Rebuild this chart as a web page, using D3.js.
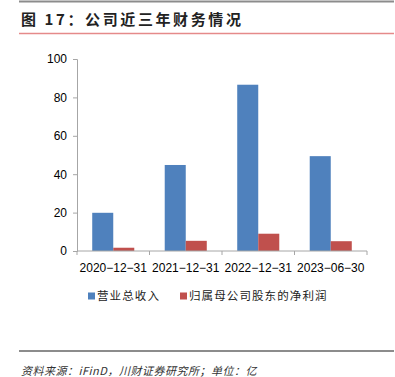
<!DOCTYPE html>
<html>
<head>
<meta charset="utf-8">
<script src="https://cdn.jsdelivr.net/npm/d3@7"></script>
<style>
  body { margin: 0; background: #fff; }
  svg { display: block; font-family: "Liberation Sans", Arial, sans-serif; }
</style>
</head>
<body>
<svg id="chart" width="395" height="377"></svg>
<script>
// data
const categories = ["2020-12-31", "2021-12-31", "2022-12-31", "2023-06-30"];
const revenue = [19.9, 44.8, 86.6, 49.4];
const netProfit = [1.7, 5.3, 9.0, 5.1];
const seriesNames = ["营业总收入", "归属母公司股东的净利润"];
const seriesColors = ["#4f81bd", "#c0504d"];
const yTicks = [0, 20, 40, 60, 80, 100];

const svg = d3.select("#chart");
const cjk = "'Noto Sans CJK SC', sans-serif";

// header / footer rules
svg.append("line").attr("x1", 19).attr("x2", 394).attr("y1", 1.5).attr("y2", 1.5)
  .attr("stroke", "#8c8c8c").attr("stroke-width", 2);
svg.append("text").attr("x", 21).attr("y", 25)
  .attr("font-family", cjk).attr("font-weight", "bold").attr("font-size", 15)
  .attr("letter-spacing", 2.6)
  .attr("fill", "#222").text("图 17：公司近三年财务情况");
svg.append("line").attr("x1", 19).attr("x2", 394).attr("y1", 33.5).attr("y2", 33.5)
  .attr("stroke", "#e58a8a").attr("stroke-width", 1.5);
svg.append("line").attr("x1", 19).attr("x2", 394).attr("y1", 351).attr("y2", 351)
  .attr("stroke", "#8c8c8c").attr("stroke-width", 2);
svg.append("text").attr("x", 21).attr("y", 375)
  .attr("font-family", cjk).attr("font-style", "italic").attr("font-size", 11)
  .attr("letter-spacing", 0.5)
  .attr("fill", "#333")
  .text("资料来源：iFinD，川财证券研究所；单位：亿");

const margin = { left: 77, right: 28, top: 59, bottom: 126 };
const width = 395, height = 377;

const x = d3.scaleBand().domain(categories)
  .range([margin.left, width - margin.right]);
const y = d3.scaleLinear().domain([0, 100])
  .range([height - margin.bottom, margin.top]);

const barW = x.bandwidth() * 0.29;
const pad = (x.bandwidth() - 2 * barW) / 2;

[revenue, netProfit].forEach((vals, s) => {
  svg.append("g").selectAll("rect")
    .data(vals)
    .enter().append("rect")
    .attr("x", (d, i) => x(categories[i]) + pad + s * barW)
    .attr("y", d => y(d))
    .attr("width", barW)
    .attr("height", d => y(0) - y(d))
    .attr("fill", seriesColors[s]);
});

// y-axis
const yAxis = svg.append("g")
  .attr("transform", `translate(${margin.left}, 0)`)
  .call(d3.axisLeft(y).tickValues(yTicks).tickSize(4).tickPadding(6));
yAxis.selectAll("text").attr("font-size", 12).attr("fill", "#000")
  .attr("font-family", "'Liberation Sans', Arial, sans-serif");
yAxis.selectAll("line, path").attr("stroke", "#a6a6a6");

// x-axis with ticks between categories
const xg = svg.append("g").attr("transform", `translate(0, ${y(0)})`);
xg.append("line").attr("x1", margin.left).attr("x2", width - margin.right)
  .attr("stroke", "#a6a6a6");
const bounds = categories.map(c => x(c)).concat([x.range()[1]]);
xg.selectAll(".tk").data(bounds).enter().append("line")
  .attr("x1", d => d).attr("x2", d => d).attr("y1", 0).attr("y2", 4)
  .attr("stroke", "#a6a6a6");
xg.selectAll(".lbl").data(categories).enter().append("text")
  .attr("x", d => x(d) + x.bandwidth() / 2).attr("y", 21)
  .attr("text-anchor", "middle").attr("font-size", 12).attr("fill", "#000")
  .text(d => d.replace(/-/g, "\u2212"));

// legend
const legend = svg.append("g").attr("transform", "translate(88, 296)");
const legX = [0, 92];
seriesNames.forEach((name, i) => {
  legend.append("rect").attr("x", legX[i]).attr("y", -3.5)
    .attr("width", 7).attr("height", 7).attr("fill", seriesColors[i]);
  legend.append("text").attr("x", legX[i] + 9).attr("y", 4)
    .attr("font-family", cjk).attr("font-size", 11.5).attr("letter-spacing", 1.1)
    .attr("fill", "#222")
    .text(name);
});
</script>
</body>
</html>
